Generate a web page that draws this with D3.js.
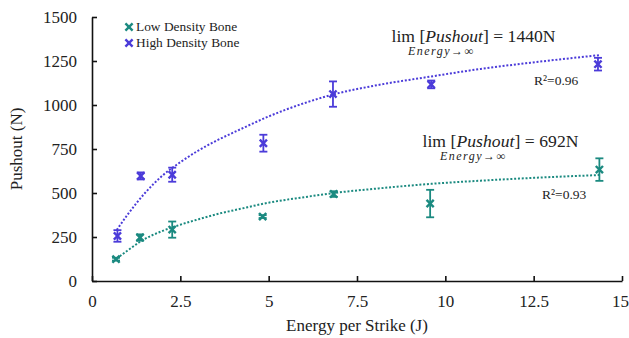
<!DOCTYPE html>
<html>
<head>
<meta charset="utf-8">
<script src="https://cdn.jsdelivr.net/npm/d3@7"></script>
<style>
  html, body { margin: 0; padding: 0; background: #fff; }
  svg { display: block; }
  svg text { font-family: "Liberation Serif", "Times New Roman", Times, "DejaVu Serif", serif !important; fill: #222; }
</style>
</head>
<body>
<svg id="chart" width="629" height="338"></svg>
<script>
// ---- data ----
const seriesNames = ["Low Density Bone", "High Density Bone"];
const energyLow  = [0.68, 1.36, 2.27, 4.83, 6.84, 9.57, 14.36];
const pushLow    = [124, 247, 292, 366, 494, 440, 633];
const errLow     = [8, 18, 46, 8, 16, 78, 64];
const energyHigh = [0.72, 1.38, 2.27, 4.85, 6.82, 9.6, 14.32];
const pushHigh   = [256, 597, 604, 783, 1062, 1117, 1232];
const errHigh    = [33, 20, 40, 48, 72, 22, 36];
// dotted trend lines
const trendLowX  = [0.7, 1.0, 1.4, 2.0, 2.5, 3.0, 3.5, 4.2, 5.0, 6.0, 6.85, 8.0, 9.6, 11.0, 12.5, 14.35];
const trendLowY  = [128, 172, 228, 285, 320, 350, 378, 410, 445, 476, 500, 524, 552, 570, 586, 602];
const trendHighX = [0.7, 1.0, 1.5, 2.0, 2.5, 3.0, 3.5, 4.2, 5.0, 6.0, 6.85, 8.0, 9.6, 11.0, 12.4, 14.35];
const trendHighY = [290, 375, 500, 600, 675, 740, 795, 862, 935, 1010, 1061, 1110, 1162, 1205, 1240, 1283];
const xTicks = [0, 2.5, 5, 7.5, 10, 12.5, 15];
const xTickLabels = ["0", "2.5", "5", "7.5", "10", "12.5", "15"];
const yTicks = [0, 250, 500, 750, 1000, 1250, 1500];
const limits = ["692N", "1440N"];
const r2Labels = ["R\u00B2=0.93", "R\u00B2=0.96"];

const colors = ["#1b8a80", "#4b3bd9"];
const FONT = "'Liberation Serif', 'Times New Roman', Times, 'DejaVu Serif', serif";

// ---- layout ----
const W = 629, H = 338;
const margin = { left: 92, right: 7, top: 17, bottom: 57 };
const svg = d3.select("#chart").attr("font-family", FONT);
const x = d3.scaleLinear().domain([0, 15]).range([margin.left, W - margin.right]);
const y = d3.scaleLinear().domain([0, 1500]).range([H - margin.bottom, margin.top]);

// axes
const xAxis = d3.axisBottom(x).tickValues(xTicks)
  .tickFormat((d, i) => xTickLabels[i]).tickSizeInner(-5).tickSizeOuter(0).tickPadding(14);
const yAxis = d3.axisLeft(y).tickValues(yTicks)
  .tickFormat(d3.format("d")).tickSizeInner(-5).tickSizeOuter(0).tickPadding(15);

const gx = svg.append("g").attr("transform", `translate(0,${H - margin.bottom})`).call(xAxis);
const gy = svg.append("g").attr("transform", `translate(${margin.left},0)`).call(yAxis);
[gx, gy].forEach(g => {
  g.attr("font-family", FONT);
  g.select(".domain").attr("stroke", "#111").attr("stroke-width", 1.6);
  g.selectAll(".tick line").attr("stroke", "#111").attr("stroke-width", 1.6);
  g.selectAll(".tick text").attr("font-family", FONT)
    .attr("font-size", 17).attr("fill", "#222");
});
gx.selectAll(".tick text").filter((d) => d === 15).attr("dx", -2);

// axis titles
svg.append("text").attr("x", (margin.left + W - margin.right) / 2).attr("y", 331)
  .attr("text-anchor", "middle").attr("font-size", 17).text("Energy per Strike (J)");
svg.append("text").attr("transform", `translate(22,${(margin.top + H - margin.bottom) / 2}) rotate(-90)`)
  .attr("text-anchor", "middle").attr("font-size", 17).text("Pushout (N)");

// trend lines
const line = d3.line().x(d => x(d[0])).y(d => y(d[1])).curve(d3.curveMonotoneX);
const trends = [d3.zip(trendLowX, trendLowY), d3.zip(trendHighX, trendHighY)];
trends.forEach((t, i) => {
  svg.append("path").datum(t).attr("d", line)
    .attr("fill", "none").attr("stroke", colors[i]).attr("stroke-width", 2)
    .attr("stroke-dasharray", "2,1.8");
});

// markers + error bars
function xMark(g, cx, cy, s, color) {
  g.append("line").attr("x1", cx - s).attr("y1", cy - s).attr("x2", cx + s).attr("y2", cy + s)
    .attr("stroke", color).attr("stroke-width", 2.4);
  g.append("line").attr("x1", cx - s).attr("y1", cy + s).attr("x2", cx + s).attr("y2", cy - s)
    .attr("stroke", color).attr("stroke-width", 2.4);
}
const series = [
  { xs: energyLow, ys: pushLow, es: errLow },
  { xs: energyHigh, ys: pushHigh, es: errHigh }
];
series.forEach((s, i) => {
  const g = svg.append("g");
  s.xs.forEach((xv, j) => {
    const cx = x(xv), top = y(s.ys[j] + s.es[j]), bot = y(s.ys[j] - s.es[j]);
    g.append("line").attr("x1", cx).attr("x2", cx).attr("y1", top).attr("y2", bot)
      .attr("stroke", colors[i]).attr("stroke-width", 1.8);
    [top, bot].forEach(yy => g.append("line").attr("x1", cx - 4).attr("x2", cx + 4)
      .attr("y1", yy).attr("y2", yy).attr("stroke", colors[i]).attr("stroke-width", 1.8));
    xMark(g, cx, y(s.ys[j]), 3.6, colors[i]);
  });
});

// legend
const legendPos = [[129, 27, 31], [129, 43, 47]];
seriesNames.forEach((n, i) => {
  const [mx, my, ty] = legendPos[i];
  xMark(svg, mx, my, 3.6, colors[i]);
  svg.append("text").attr("x", 136).attr("y", ty).attr("font-size", 13.4).text(n);
});

// limit annotations
function limText(xp, yp, value, width) {
  const t = svg.append("text").attr("x", xp).attr("y", yp).attr("font-size", 17.6)
    .attr("textLength", width).attr("lengthAdjust", "spacing");
  t.append("tspan").text("lim [");
  t.append("tspan").attr("font-style", "italic").text("Pushout");
  t.append("tspan").text("] = " + value);
}
function subText(xp, yp) {
  svg.append("text").attr("x", xp).attr("y", yp).attr("font-size", 12)
    .attr("font-style", "italic").attr("textLength", 65).attr("lengthAdjust", "spacing")
    .text("Energy\u2192\u221E");
}
limText(391.5, 41.5, limits[1], 164);
subText(408, 55);
limText(422.5, 146.5, limits[0], 156);
subText(440, 160);

svg.append("text").attr("x", 534).attr("y", 84.5).attr("font-size", 13.5).text(r2Labels[1]);
svg.append("text").attr("x", 542).attr("y", 199).attr("font-size", 13.5).text(r2Labels[0]);
</script>
</body>
</html>
